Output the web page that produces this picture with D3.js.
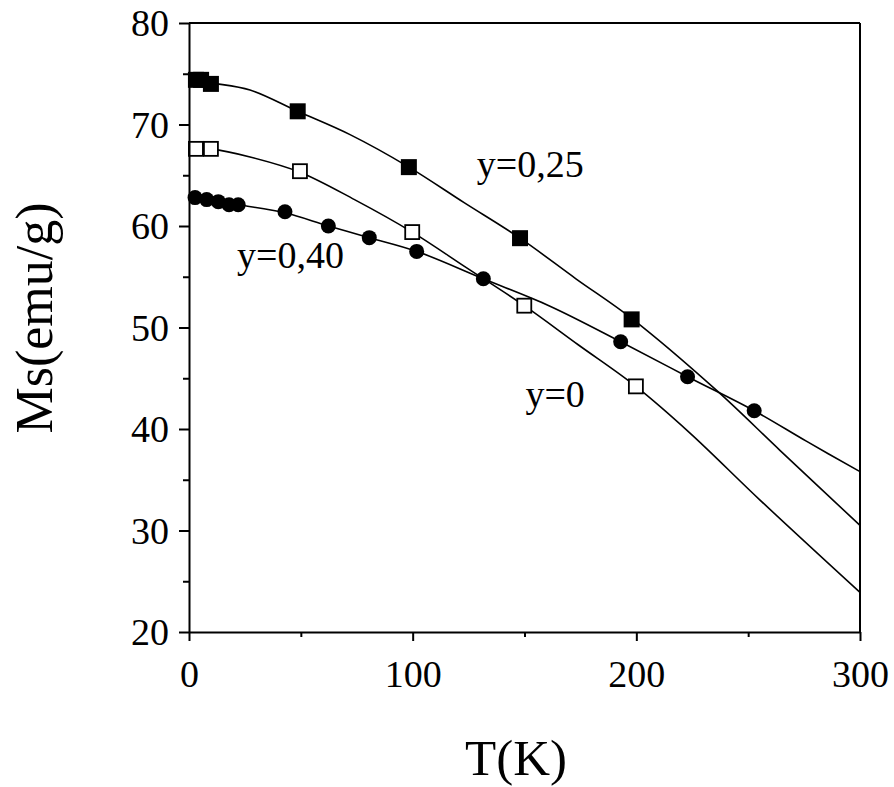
<!DOCTYPE html>
<html>
<head>
<meta charset="utf-8">
<script src="https://cdn.jsdelivr.net/npm/d3@7"></script>
<style>
  html, body { margin: 0; padding: 0; background: #fff; }
  svg { display: block; }
  text { font-family: "Liberation Serif", "Times New Roman", serif; fill: #000; }
</style>
</head>
<body>
<svg id="chart" width="894" height="787"></svg>
<script>
// ---- data ----
const xTicks = [0, 100, 200, 300];
const xMinorTicks = [50, 150, 250];
const yTicks = [20, 30, 40, 50, 60, 70, 80];
const yMinorTicks = [25, 35, 45, 55, 65, 75];

// y = 0.25 (filled squares)
const sq025T  = [3.1, 5.4, 9.8, 48.6, 98.3, 148.0, 197.9];
const sq025Ms = [74.4, 74.4, 74.0, 71.3, 65.8, 58.8, 50.8];
// y = 0 (open squares)
const sq0T  = [3.1, 9.8, 49.6, 99.8, 149.9, 199.8];
const sq0Ms = [67.6, 67.6, 65.4, 59.4, 52.15, 44.2];
// y = 0.40 (filled circles)
const c040T  = [2.7, 7.9, 13.1, 17.9, 22.0, 42.9, 62.3, 80.6, 101.8, 131.6, 193.0, 222.9, 252.7];
const c040Ms = [62.8, 62.6, 62.4, 62.1, 62.1, 61.4, 60.0, 58.85, 57.5, 54.8, 48.6, 45.15, 41.8];

// fitted curves
const fit025T  = [0, 10, 27.3, 48.6, 72, 98.3, 123, 148, 173, 197.9, 235.9, 264.2, 300];
const fit025Ms = [74.5, 74.1, 73.4, 71.3, 69.0, 65.8, 62.3, 58.8, 54.8, 50.9, 43.8, 37.9, 30.5];
const fit0T  = [0, 10, 27.3, 49.6, 74, 99.8, 124, 149.9, 174, 199.8, 224, 255.3, 300];
const fit0Ms = [67.7, 67.6, 66.8, 65.3, 62.6, 59.4, 55.9, 52.15, 48.3, 44.2, 39.6, 33.0, 23.9];
const fit040T  = [0, 22, 42.9, 62.3, 80.6, 101.8, 131.6, 161.4, 193, 222.9, 252.7, 276, 300];
const fit040Ms = [62.95, 62.1, 61.3, 60.0, 58.85, 57.5, 54.8, 52.1, 48.6, 45.15, 41.8, 38.8, 35.8];

const labelTexts = ["y=0,25", "y=0,40", "y=0"];
const labelT  = [128.7, 21.5, 150.4];
const labelMs = [64.8, 55.9, 42.2];

const xTitle = "T(K)";
const yTitle = "Ms(emu/g)";

// ---- layout ----
const svg = d3.select("#chart");
const margin = {left: 189, right: 34, top: 23, bottom: 155};
const W = 894, H = 787;
const x = d3.scaleLinear().domain([0, 300]).range([margin.left, W - margin.right]);
const y = d3.scaleLinear().domain([20, 80]).range([H - margin.bottom, margin.top]);

const zip = (a, b) => a.map((v, i) => [v, b[i]]);

// curves
const line = d3.line().x(d => x(d[0])).y(d => y(d[1])).curve(d3.curveCatmullRom.alpha(0.5));
[[fit025T, fit025Ms], [fit0T, fit0Ms], [fit040T, fit040Ms]].forEach(([t, m]) => {
  svg.append("path").datum(zip(t, m))
    .attr("d", line).attr("fill", "none").attr("stroke", "#000").attr("stroke-width", 1.6);
});

// markers
svg.append("g").selectAll("rect").data(zip(sq025T, sq025Ms)).join("rect")
  .attr("x", d => x(d[0]) - 8).attr("y", d => y(d[1]) - 8)
  .attr("width", 16).attr("height", 16).attr("fill", "#000");
svg.append("g").selectAll("rect").data(zip(sq0T, sq0Ms)).join("rect")
  .attr("x", d => x(d[0]) - 7).attr("y", d => y(d[1]) - 7)
  .attr("width", 14).attr("height", 14).attr("fill", "#fff")
  .attr("stroke", "#000").attr("stroke-width", 1.8);
svg.append("g").selectAll("circle").data(zip(c040T, c040Ms)).join("circle")
  .attr("cx", d => x(d[0])).attr("cy", d => y(d[1])).attr("r", 7.5).attr("fill", "#000");

// frame (top & right)
svg.append("line").attr("x1", x(0)).attr("x2", x(300)).attr("y1", y(80)).attr("y2", y(80))
  .attr("stroke", "#000").attr("stroke-width", 2);
svg.append("line").attr("x1", x(300)).attr("x2", x(300)).attr("y1", y(80)).attr("y2", y(20))
  .attr("stroke", "#000").attr("stroke-width", 2);

// axes
function styleAxis(g) {
  g.select(".domain").attr("stroke-width", 2);
  g.selectAll(".tick line").attr("stroke-width", 2);
}
const gx = svg.append("g").attr("transform", `translate(0,${y(20)})`)
  .call(d3.axisBottom(x).tickValues(xTicks).tickSize(9).tickSizeOuter(0).tickPadding(10))
  .call(styleAxis);
gx.selectAll(".tick text").attr("font-size", 38).attr("font-family", "Liberation Serif")
  .attr("y", 55).attr("dy", 0);
svg.append("g").attr("transform", `translate(0,${y(20)})`)
  .call(d3.axisBottom(x).tickValues(xMinorTicks).tickSize(5).tickFormat(""))
  .call(g => g.select(".domain").remove())
  .call(g => g.selectAll(".tick line").attr("stroke-width", 2));

const gy = svg.append("g").attr("transform", `translate(${x(0)},0)`)
  .call(d3.axisLeft(y).tickValues(yTicks).tickSize(10).tickSizeOuter(0).tickPadding(10))
  .call(styleAxis);
gy.selectAll(".tick text").attr("font-size", 38).attr("font-family", "Liberation Serif")
  .attr("dy", "0.33em");
svg.append("g").attr("transform", `translate(${x(0)},0)`)
  .call(d3.axisLeft(y).tickValues(yMinorTicks).tickSize(6).tickFormat(""))
  .call(g => g.select(".domain").remove())
  .call(g => g.selectAll(".tick line").attr("stroke-width", 2));

// annotations
labelTexts.forEach((t, i) => {
  svg.append("text").attr("x", x(labelT[i])).attr("y", y(labelMs[i]))
    .attr("font-size", 38).attr("font-family", "Liberation Serif").text(t);
});

// titles
svg.append("text").attr("x", 516).attr("y", 775).attr("text-anchor", "middle")
  .attr("font-size", 51).attr("font-family", "Liberation Serif").text(xTitle);
svg.append("text").attr("transform", "translate(52,318) rotate(-90)")
  .attr("text-anchor", "middle").attr("font-size", 52).attr("font-family", "Liberation Serif").text(yTitle);
</script>
</body>
</html>
